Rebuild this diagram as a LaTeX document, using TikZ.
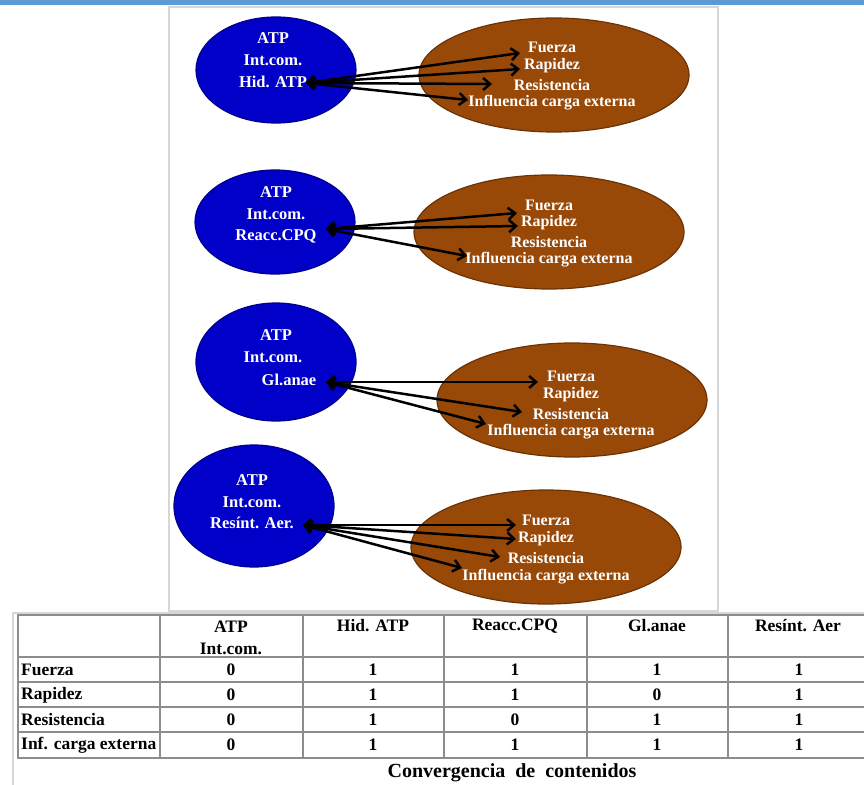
\documentclass[tikz,border=0pt]{standalone}
\usepackage{fontspec}
\setmainfont{Liberation Serif}
\usetikzlibrary{arrows.meta,shapes.geometric}
\definecolor{topbar}{HTML}{5B9BD5}
\definecolor{ovalblue}{HTML}{0000C8}
\definecolor{ovalbrown}{HTML}{984807}
\definecolor{framegray}{HTML}{D6D6D6}
\definecolor{gridgray}{HTML}{8C8C8C}
\begin{document}
\begin{tikzpicture}[x=1pt,y=-1pt,
  blueoval/.style={ellipse,fill=ovalblue,draw=ovalblue!70!black,line width=1.2pt,inner sep=0pt,minimum width=160pt},
  brownoval/.style={ellipse,fill=ovalbrown,draw=ovalbrown!70!black,line width=1.2pt,inner sep=0pt,minimum width=270pt,minimum height=114pt},
  otxt/.style={text=white,inner sep=0pt,font=\fontsize{16}{19}\selectfont\bfseries},
  btxt/.style={text=white,inner sep=0pt,font=\fontsize{16.5}{19}\selectfont\bfseries},
  tlink/.style={draw=black,line width=2.5pt,{Straight Barb[length=7pt,width=12pt]}-{Straight Barb[length=7pt,width=12pt]}},
  ttxt/.style={inner sep=0pt,font=\fontsize{17.5}{20}\selectfont\bfseries},
  tline/.style={draw=gridgray,line width=1.6pt}]
\useasboundingbox (0,0) rectangle (864,784);
\fill[white] (0,0) rectangle (864,784);
% top bar and frame
\fill[topbar] (0,0) rectangle (864,5);
\draw[framegray,line width=2pt] (169,7) rectangle (718,611);

% ---------- pair 1 ----------
\node[blueoval,minimum height=106pt] (b1) at (276,70) {};
\node[brownoval] (r1) at (554,75) {};
\node[btxt] (b1a) at (273,38) {ATP};
\node[btxt] (b1b) at (273,60) {Int.com.};
\node[btxt] (b1c) at (273,82) {Hid. ATP};
\node[otxt] (r1a) at (552,47) {Fuerza};
\node[otxt] (r1b) at (552,66) {Rapidez};
\node[otxt] (r1c) at (552,85) {Resistencia};
\node[otxt] (r1d) at (552,103) {Influencia carga externa};
\coordinate (s1) at (306,83);
\coordinate (t1a) at (520,53);
\coordinate (t1b) at (520,69);
\coordinate (t1c) at (492,84);
\coordinate (t1d) at (468,100);
\draw[tlink] (s1) -- (t1a);
\draw[tlink] (s1) -- (t1b);
\draw[tlink] (s1) -- (t1c);
\draw[tlink] (s1) -- (t1d);

% ---------- pair 2 ----------
\node[blueoval,minimum height=104pt] (b2) at (275,222) {};
\node[brownoval] (r2) at (549,232) {};
\node[btxt] (b2a) at (276,192) {ATP};
\node[btxt] (b2b) at (276,214) {Int.com.};
\node[btxt] (b2c) at (276,236) {Reacc.CPQ};
\node[otxt] (r2a) at (549,205) {Fuerza};
\node[otxt] (r2b) at (549,223) {Rapidez};
\node[otxt] (r2c) at (549,242) {Resistencia};
\node[otxt] (r2d) at (549,260) {Influencia carga externa};
\coordinate (s2) at (326,229);
\coordinate (t2a) at (517,213);
\coordinate (t2b) at (518,226);
\coordinate (t2d) at (467,256);
\draw[tlink] (s2) -- (t2a);
\draw[tlink] (s2) -- (t2b);
\draw[tlink] (s2) -- (t2d);

% ---------- pair 3 ----------
\node[blueoval,minimum height=118pt] (b3) at (276,362) {};
\node[brownoval] (r3) at (572,400) {};
\node[btxt] (b3a) at (276,335) {ATP};
\node[btxt] (b3b) at (273,357) {Int.com.};
\node[btxt] (b3c) at (289,380) {Gl.anae};
\node[otxt] (r3a) at (571,376) {Fuerza};
\node[otxt] (r3b) at (571,395) {Rapidez};
\node[otxt] (r3c) at (571,414) {Resistencia};
\node[otxt] (r3d) at (571,432) {Influencia carga externa};
\coordinate (s3) at (326,382);
\coordinate (t3a) at (538,382);
\coordinate (t3c) at (522,412);
\coordinate (t3d) at (486,424);
\draw[tlink] (s3) -- (t3a);
\draw[tlink] (s3) -- (t3c);
\draw[tlink] (s3) -- (t3d);

% ---------- pair 4 ----------
\node[blueoval,minimum height=122pt] (b4) at (254,506) {};
\node[brownoval] (r4) at (546,547) {};
\node[btxt] (b4a) at (252,480) {ATP};
\node[btxt] (b4b) at (252,502) {Int.com.};
\node[btxt] (b4c) at (252,523) {Resínt. Aer.};
\node[otxt] (r4a) at (546,520) {Fuerza};
\node[otxt] (r4b) at (546,539) {Rapidez};
\node[otxt] (r4c) at (546,558) {Resistencia};
\node[otxt] (r4d) at (546,577) {Influencia carga externa};
\coordinate (s4) at (303,525);
\coordinate (t4a) at (516,525);
\coordinate (t4b) at (516,539);
\coordinate (t4c) at (500,557);
\coordinate (t4d) at (462,568);
\draw[tlink] (s4) -- (t4a);
\draw[tlink] (s4) -- (t4b);
\draw[tlink] (s4) -- (t4c);
\draw[tlink] (s4) -- (t4d);

% ---------- table ----------
\draw[framegray,line width=2pt] (13,790) -- (13,613) -- (870,613);
\draw[tline] (18,615) rectangle (868,758);
\foreach \cx in {160,303,444,587,728} \draw[tline] (\cx,615) -- (\cx,758);
\foreach \ry in {657,682,707,732} \draw[tline] (18,\ry) -- (868,\ry);

\node[ttxt] (h1a) at (231,627) {ATP};
\node[ttxt] (h1b) at (231,649) {Int.com.};
\node[ttxt] (h2) at (373,626) {Hid. ATP};
\node[ttxt] (h3) at (515,626) {Reacc.CPQ};
\node[ttxt] (h4) at (657,626) {Gl.anae};
\node[ttxt] (h5) at (798,626) {Resínt. Aer};

\node[ttxt,anchor=west] (rw1) at (21,670) {Fuerza};
\node[ttxt,anchor=west] (rw2) at (21,695) {Rapidez};
\node[ttxt,anchor=west] (rw3) at (21,720) {Resistencia};
\node[ttxt,anchor=west] (rw4) at (21,745) {Inf. carga externa};

\foreach \vals [count=\r] in {{0,1,1,1,1},{0,1,1,0,1},{0,1,0,1,1},{0,1,1,1,1}} {
  \foreach \v [count=\c] in \vals {
    \pgfmathsetmacro{\xx}{231+142*(\c-1)}
    \pgfmathsetmacro{\yy}{670+25*(\r-1)}
    \node[ttxt] (v\r-\c) at (\xx,\yy) {\v};
  }
}

\node[inner sep=0pt,font=\fontsize{20}{24}\selectfont\bfseries] (cap) at (512,773) {Convergencia\ \ de\ \ contenidos};
\end{tikzpicture}
\end{document}
